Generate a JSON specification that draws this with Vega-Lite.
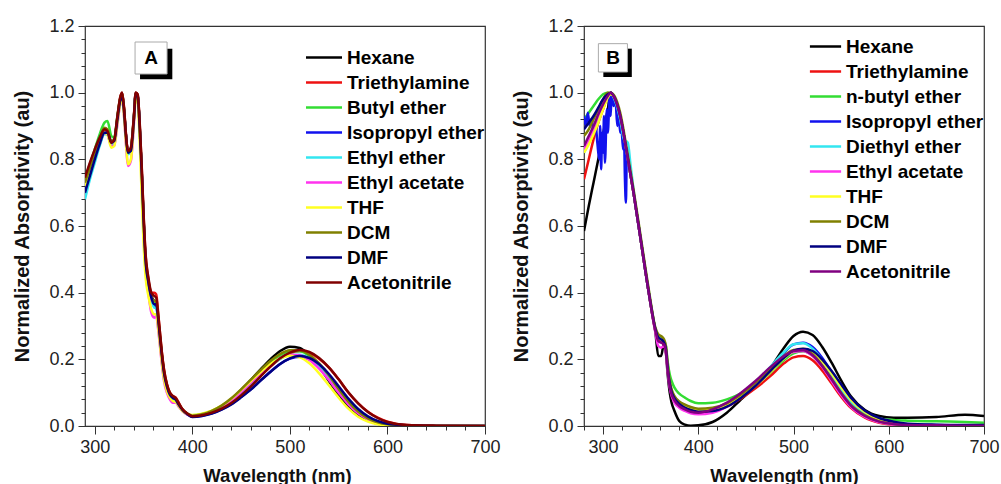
{
"$schema": "https://vega.github.io/schema/vega-lite/v6.json",
"padding": {"left": 12, "top": 16, "right": 0, "bottom": 0},
"spacing": 10,
"config": {
  "view": {"stroke": "#333", "strokeWidth": 1.2},
  "font": "Liberation Sans",
  "axis": {"labelFont": "Liberation Sans", "titleFont": "Liberation Sans", "grid": false, "domain": false, "labelFlush": false, "tickColor": "#333", "labelColor": "#222", "titleColor": "#111", "labelFontSize": 18, "titleFontWeight": "bold"},
  "legend": {"orient": "none", "title": null, "symbolSize": 144, "symbolStrokeWidth": 2.6, "labelFontSize": 19, "labelFontWeight": "bold", "labelFont": "Liberation Sans", "labelColor": "#000", "rowPadding": 5, "padding": 0, "labelLimit": 300}
},
"resolve": {"scale": {"color": "independent"}, "legend": {"color": "independent"}},
"datasets": {
"A": [
{"s":"Hexane","w":290,"a":0.72},{"s":"Hexane","w":295,"a":0.77},{"s":"Hexane","w":300,"a":0.815},{"s":"Hexane","w":305,"a":0.855},{"s":"Hexane","w":310,"a":0.885},{"s":"Hexane","w":313,"a":0.88},{"s":"Hexane","w":317,"a":0.85},{"s":"Hexane","w":320,"a":0.855},{"s":"Hexane","w":323,"a":0.92},{"s":"Hexane","w":326,"a":0.98},{"s":"Hexane","w":328,"a":1.0},{"s":"Hexane","w":330,"a":0.95},{"s":"Hexane","w":332,"a":0.87},{"s":"Hexane","w":334,"a":0.82},{"s":"Hexane","w":337,"a":0.83},{"s":"Hexane","w":340,"a":0.92},{"s":"Hexane","w":342,"a":1.0},{"s":"Hexane","w":344,"a":0.99},{"s":"Hexane","w":346,"a":0.9},{"s":"Hexane","w":348,"a":0.77},{"s":"Hexane","w":350,"a":0.62},{"s":"Hexane","w":352,"a":0.5},{"s":"Hexane","w":355,"a":0.43},{"s":"Hexane","w":358,"a":0.39},{"s":"Hexane","w":361,"a":0.375},{"s":"Hexane","w":363,"a":0.37},{"s":"Hexane","w":365,"a":0.32},{"s":"Hexane","w":367,"a":0.26},{"s":"Hexane","w":369,"a":0.205},{"s":"Hexane","w":371,"a":0.16},{"s":"Hexane","w":374,"a":0.12},{"s":"Hexane","w":377,"a":0.095},{"s":"Hexane","w":380,"a":0.085},{"s":"Hexane","w":383,"a":0.08},{"s":"Hexane","w":386,"a":0.065},{"s":"Hexane","w":390,"a":0.048},{"s":"Hexane","w":395,"a":0.036},
{"s":"Hexane","w":400,"a":0.03},{"s":"Hexane","w":410,"a":0.034},{"s":"Hexane","w":420,"a":0.043},{"s":"Hexane","w":430,"a":0.058},{"s":"Hexane","w":440,"a":0.08},{"s":"Hexane","w":450,"a":0.108},{"s":"Hexane","w":460,"a":0.138},{"s":"Hexane","w":470,"a":0.17},{"s":"Hexane","w":480,"a":0.2},{"s":"Hexane","w":490,"a":0.225},{"s":"Hexane","w":500,"a":0.238},{"s":"Hexane","w":510,"a":0.234},{"s":"Hexane","w":520,"a":0.212},{"s":"Hexane","w":530,"a":0.178},{"s":"Hexane","w":540,"a":0.135},{"s":"Hexane","w":550,"a":0.092},{"s":"Hexane","w":560,"a":0.057},{"s":"Hexane","w":570,"a":0.032},{"s":"Hexane","w":580,"a":0.016},{"s":"Hexane","w":590,"a":0.007},{"s":"Hexane","w":600,"a":0.003},{"s":"Hexane","w":620,"a":0.001},{"s":"Hexane","w":650,"a":0},{"s":"Hexane","w":700,"a":0},

{"s":"Triethylamine","w":290,"a":0.74},{"s":"Triethylamine","w":295,"a":0.785},{"s":"Triethylamine","w":300,"a":0.825},{"s":"Triethylamine","w":305,"a":0.86},{"s":"Triethylamine","w":310,"a":0.885},{"s":"Triethylamine","w":313,"a":0.88},{"s":"Triethylamine","w":317,"a":0.845},{"s":"Triethylamine","w":320,"a":0.855},{"s":"Triethylamine","w":323,"a":0.92},{"s":"Triethylamine","w":326,"a":0.985},{"s":"Triethylamine","w":328,"a":1.0},{"s":"Triethylamine","w":330,"a":0.955},{"s":"Triethylamine","w":332,"a":0.875},{"s":"Triethylamine","w":334,"a":0.825},{"s":"Triethylamine","w":337,"a":0.835},{"s":"Triethylamine","w":340,"a":0.925},{"s":"Triethylamine","w":342,"a":1.0},{"s":"Triethylamine","w":344,"a":0.995},{"s":"Triethylamine","w":346,"a":0.91},{"s":"Triethylamine","w":348,"a":0.785},{"s":"Triethylamine","w":350,"a":0.635},{"s":"Triethylamine","w":352,"a":0.515},{"s":"Triethylamine","w":355,"a":0.44},{"s":"Triethylamine","w":358,"a":0.4},{"s":"Triethylamine","w":361,"a":0.4},{"s":"Triethylamine","w":363,"a":0.395},{"s":"Triethylamine","w":365,"a":0.34},{"s":"Triethylamine","w":367,"a":0.275},{"s":"Triethylamine","w":369,"a":0.215},{"s":"Triethylamine","w":371,"a":0.17},{"s":"Triethylamine","w":374,"a":0.125},{"s":"Triethylamine","w":377,"a":0.1},{"s":"Triethylamine","w":380,"a":0.09},{"s":"Triethylamine","w":383,"a":0.085},{"s":"Triethylamine","w":386,"a":0.07},{"s":"Triethylamine","w":390,"a":0.05},{"s":"Triethylamine","w":395,"a":0.037},
{"s":"Triethylamine","w":400,"a":0.03},{"s":"Triethylamine","w":410,"a":0.033},{"s":"Triethylamine","w":420,"a":0.041},{"s":"Triethylamine","w":430,"a":0.053},{"s":"Triethylamine","w":440,"a":0.07},{"s":"Triethylamine","w":450,"a":0.093},{"s":"Triethylamine","w":460,"a":0.12},{"s":"Triethylamine","w":470,"a":0.15},{"s":"Triethylamine","w":480,"a":0.178},{"s":"Triethylamine","w":490,"a":0.202},{"s":"Triethylamine","w":500,"a":0.218},{"s":"Triethylamine","w":510,"a":0.225},{"s":"Triethylamine","w":520,"a":0.219},{"s":"Triethylamine","w":530,"a":0.202},{"s":"Triethylamine","w":540,"a":0.175},{"s":"Triethylamine","w":550,"a":0.14},{"s":"Triethylamine","w":560,"a":0.1},{"s":"Triethylamine","w":570,"a":0.068},{"s":"Triethylamine","w":580,"a":0.043},{"s":"Triethylamine","w":590,"a":0.025},{"s":"Triethylamine","w":600,"a":0.013},{"s":"Triethylamine","w":620,"a":0.003},{"s":"Triethylamine","w":650,"a":0.001},{"s":"Triethylamine","w":700,"a":0},

{"s":"Butyl ether","w":290,"a":0.74},{"s":"Butyl ether","w":295,"a":0.785},{"s":"Butyl ether","w":300,"a":0.83},{"s":"Butyl ether","w":305,"a":0.875},{"s":"Butyl ether","w":310,"a":0.91},{"s":"Butyl ether","w":313,"a":0.915},{"s":"Butyl ether","w":317,"a":0.87},{"s":"Butyl ether","w":320,"a":0.865},{"s":"Butyl ether","w":323,"a":0.925},{"s":"Butyl ether","w":326,"a":0.98},{"s":"Butyl ether","w":328,"a":0.995},{"s":"Butyl ether","w":330,"a":0.945},{"s":"Butyl ether","w":332,"a":0.865},{"s":"Butyl ether","w":334,"a":0.82},{"s":"Butyl ether","w":337,"a":0.83},{"s":"Butyl ether","w":340,"a":0.92},{"s":"Butyl ether","w":342,"a":0.995},{"s":"Butyl ether","w":344,"a":0.985},{"s":"Butyl ether","w":346,"a":0.895},{"s":"Butyl ether","w":348,"a":0.765},{"s":"Butyl ether","w":350,"a":0.615},{"s":"Butyl ether","w":352,"a":0.495},{"s":"Butyl ether","w":355,"a":0.425},{"s":"Butyl ether","w":358,"a":0.385},{"s":"Butyl ether","w":361,"a":0.37},{"s":"Butyl ether","w":363,"a":0.365},{"s":"Butyl ether","w":365,"a":0.315},{"s":"Butyl ether","w":367,"a":0.255},{"s":"Butyl ether","w":369,"a":0.2},{"s":"Butyl ether","w":371,"a":0.155},{"s":"Butyl ether","w":374,"a":0.115},{"s":"Butyl ether","w":377,"a":0.092},{"s":"Butyl ether","w":380,"a":0.082},{"s":"Butyl ether","w":383,"a":0.077},{"s":"Butyl ether","w":386,"a":0.063},{"s":"Butyl ether","w":390,"a":0.047},{"s":"Butyl ether","w":395,"a":0.036},
{"s":"Butyl ether","w":400,"a":0.032},{"s":"Butyl ether","w":410,"a":0.036},{"s":"Butyl ether","w":420,"a":0.045},{"s":"Butyl ether","w":430,"a":0.06},{"s":"Butyl ether","w":440,"a":0.08},{"s":"Butyl ether","w":450,"a":0.106},{"s":"Butyl ether","w":460,"a":0.134},{"s":"Butyl ether","w":470,"a":0.163},{"s":"Butyl ether","w":480,"a":0.19},{"s":"Butyl ether","w":490,"a":0.212},{"s":"Butyl ether","w":500,"a":0.224},{"s":"Butyl ether","w":510,"a":0.224},{"s":"Butyl ether","w":520,"a":0.21},{"s":"Butyl ether","w":530,"a":0.182},{"s":"Butyl ether","w":540,"a":0.145},{"s":"Butyl ether","w":550,"a":0.105},{"s":"Butyl ether","w":560,"a":0.068},{"s":"Butyl ether","w":570,"a":0.04},{"s":"Butyl ether","w":580,"a":0.021},{"s":"Butyl ether","w":590,"a":0.01},{"s":"Butyl ether","w":600,"a":0.004},{"s":"Butyl ether","w":620,"a":0.001},{"s":"Butyl ether","w":650,"a":0},{"s":"Butyl ether","w":700,"a":0},

{"s":"Isopropyl ether","w":290,"a":0.7},{"s":"Isopropyl ether","w":295,"a":0.75},{"s":"Isopropyl ether","w":300,"a":0.8},{"s":"Isopropyl ether","w":305,"a":0.845},{"s":"Isopropyl ether","w":310,"a":0.88},{"s":"Isopropyl ether","w":313,"a":0.88},{"s":"Isopropyl ether","w":317,"a":0.85},{"s":"Isopropyl ether","w":320,"a":0.855},{"s":"Isopropyl ether","w":323,"a":0.915},{"s":"Isopropyl ether","w":326,"a":0.975},{"s":"Isopropyl ether","w":328,"a":0.99},{"s":"Isopropyl ether","w":330,"a":0.945},{"s":"Isopropyl ether","w":332,"a":0.87},{"s":"Isopropyl ether","w":334,"a":0.82},{"s":"Isopropyl ether","w":337,"a":0.825},{"s":"Isopropyl ether","w":340,"a":0.915},{"s":"Isopropyl ether","w":342,"a":0.995},{"s":"Isopropyl ether","w":344,"a":0.99},{"s":"Isopropyl ether","w":346,"a":0.9},{"s":"Isopropyl ether","w":348,"a":0.77},{"s":"Isopropyl ether","w":350,"a":0.62},{"s":"Isopropyl ether","w":352,"a":0.5},{"s":"Isopropyl ether","w":355,"a":0.43},{"s":"Isopropyl ether","w":358,"a":0.385},{"s":"Isopropyl ether","w":361,"a":0.36},{"s":"Isopropyl ether","w":363,"a":0.36},{"s":"Isopropyl ether","w":365,"a":0.315},{"s":"Isopropyl ether","w":367,"a":0.255},{"s":"Isopropyl ether","w":369,"a":0.2},{"s":"Isopropyl ether","w":371,"a":0.155},{"s":"Isopropyl ether","w":374,"a":0.117},{"s":"Isopropyl ether","w":377,"a":0.093},{"s":"Isopropyl ether","w":380,"a":0.083},{"s":"Isopropyl ether","w":383,"a":0.078},{"s":"Isopropyl ether","w":386,"a":0.063},{"s":"Isopropyl ether","w":390,"a":0.047},{"s":"Isopropyl ether","w":395,"a":0.035},
{"s":"Isopropyl ether","w":400,"a":0.028},{"s":"Isopropyl ether","w":410,"a":0.031},{"s":"Isopropyl ether","w":420,"a":0.038},{"s":"Isopropyl ether","w":430,"a":0.05},{"s":"Isopropyl ether","w":440,"a":0.066},{"s":"Isopropyl ether","w":450,"a":0.087},{"s":"Isopropyl ether","w":460,"a":0.11},{"s":"Isopropyl ether","w":470,"a":0.137},{"s":"Isopropyl ether","w":480,"a":0.163},{"s":"Isopropyl ether","w":490,"a":0.186},{"s":"Isopropyl ether","w":500,"a":0.202},{"s":"Isopropyl ether","w":510,"a":0.208},{"s":"Isopropyl ether","w":520,"a":0.2},{"s":"Isopropyl ether","w":530,"a":0.18},{"s":"Isopropyl ether","w":540,"a":0.15},{"s":"Isopropyl ether","w":550,"a":0.113},{"s":"Isopropyl ether","w":560,"a":0.077},{"s":"Isopropyl ether","w":570,"a":0.047},{"s":"Isopropyl ether","w":580,"a":0.026},{"s":"Isopropyl ether","w":590,"a":0.013},{"s":"Isopropyl ether","w":600,"a":0.006},{"s":"Isopropyl ether","w":620,"a":0.002},{"s":"Isopropyl ether","w":650,"a":0},{"s":"Isopropyl ether","w":700,"a":0},

{"s":"Ethyl ether","w":290,"a":0.68},{"s":"Ethyl ether","w":295,"a":0.74},{"s":"Ethyl ether","w":300,"a":0.79},{"s":"Ethyl ether","w":305,"a":0.84},{"s":"Ethyl ether","w":310,"a":0.875},{"s":"Ethyl ether","w":313,"a":0.875},{"s":"Ethyl ether","w":317,"a":0.845},{"s":"Ethyl ether","w":320,"a":0.85},{"s":"Ethyl ether","w":323,"a":0.915},{"s":"Ethyl ether","w":326,"a":0.975},{"s":"Ethyl ether","w":328,"a":0.99},{"s":"Ethyl ether","w":330,"a":0.94},{"s":"Ethyl ether","w":332,"a":0.865},{"s":"Ethyl ether","w":334,"a":0.815},{"s":"Ethyl ether","w":337,"a":0.825},{"s":"Ethyl ether","w":340,"a":0.915},{"s":"Ethyl ether","w":342,"a":0.995},{"s":"Ethyl ether","w":344,"a":0.985},{"s":"Ethyl ether","w":346,"a":0.895},{"s":"Ethyl ether","w":348,"a":0.765},{"s":"Ethyl ether","w":350,"a":0.615},{"s":"Ethyl ether","w":352,"a":0.495},{"s":"Ethyl ether","w":355,"a":0.425},{"s":"Ethyl ether","w":358,"a":0.38},{"s":"Ethyl ether","w":361,"a":0.355},{"s":"Ethyl ether","w":363,"a":0.355},{"s":"Ethyl ether","w":365,"a":0.31},{"s":"Ethyl ether","w":367,"a":0.25},{"s":"Ethyl ether","w":369,"a":0.195},{"s":"Ethyl ether","w":371,"a":0.15},{"s":"Ethyl ether","w":374,"a":0.113},{"s":"Ethyl ether","w":377,"a":0.09},{"s":"Ethyl ether","w":380,"a":0.08},{"s":"Ethyl ether","w":383,"a":0.075},{"s":"Ethyl ether","w":386,"a":0.061},{"s":"Ethyl ether","w":390,"a":0.046},{"s":"Ethyl ether","w":395,"a":0.035},
{"s":"Ethyl ether","w":400,"a":0.03},{"s":"Ethyl ether","w":410,"a":0.034},{"s":"Ethyl ether","w":420,"a":0.042},{"s":"Ethyl ether","w":430,"a":0.056},{"s":"Ethyl ether","w":440,"a":0.075},{"s":"Ethyl ether","w":450,"a":0.099},{"s":"Ethyl ether","w":460,"a":0.126},{"s":"Ethyl ether","w":470,"a":0.154},{"s":"Ethyl ether","w":480,"a":0.18},{"s":"Ethyl ether","w":490,"a":0.201},{"s":"Ethyl ether","w":500,"a":0.213},{"s":"Ethyl ether","w":510,"a":0.214},{"s":"Ethyl ether","w":520,"a":0.203},{"s":"Ethyl ether","w":530,"a":0.18},{"s":"Ethyl ether","w":540,"a":0.147},{"s":"Ethyl ether","w":550,"a":0.108},{"s":"Ethyl ether","w":560,"a":0.072},{"s":"Ethyl ether","w":570,"a":0.043},{"s":"Ethyl ether","w":580,"a":0.023},{"s":"Ethyl ether","w":590,"a":0.011},{"s":"Ethyl ether","w":600,"a":0.005},{"s":"Ethyl ether","w":620,"a":0.001},{"s":"Ethyl ether","w":650,"a":0},{"s":"Ethyl ether","w":700,"a":0},

{"s":"Ethyl acetate","w":290,"a":0.72},{"s":"Ethyl acetate","w":295,"a":0.765},{"s":"Ethyl acetate","w":300,"a":0.81},{"s":"Ethyl acetate","w":305,"a":0.85},{"s":"Ethyl acetate","w":310,"a":0.88},{"s":"Ethyl acetate","w":313,"a":0.875},{"s":"Ethyl acetate","w":317,"a":0.84},{"s":"Ethyl acetate","w":320,"a":0.84},{"s":"Ethyl acetate","w":323,"a":0.9},{"s":"Ethyl acetate","w":326,"a":0.965},{"s":"Ethyl acetate","w":328,"a":0.985},{"s":"Ethyl acetate","w":330,"a":0.93},{"s":"Ethyl acetate","w":332,"a":0.845},{"s":"Ethyl acetate","w":334,"a":0.78},{"s":"Ethyl acetate","w":337,"a":0.795},{"s":"Ethyl acetate","w":340,"a":0.9},{"s":"Ethyl acetate","w":342,"a":0.99},{"s":"Ethyl acetate","w":344,"a":0.98},{"s":"Ethyl acetate","w":346,"a":0.89},{"s":"Ethyl acetate","w":348,"a":0.755},{"s":"Ethyl acetate","w":350,"a":0.6},{"s":"Ethyl acetate","w":352,"a":0.48},{"s":"Ethyl acetate","w":355,"a":0.4},{"s":"Ethyl acetate","w":358,"a":0.34},{"s":"Ethyl acetate","w":361,"a":0.325},{"s":"Ethyl acetate","w":363,"a":0.33},{"s":"Ethyl acetate","w":365,"a":0.29},{"s":"Ethyl acetate","w":367,"a":0.235},{"s":"Ethyl acetate","w":369,"a":0.18},{"s":"Ethyl acetate","w":371,"a":0.135},{"s":"Ethyl acetate","w":374,"a":0.1},{"s":"Ethyl acetate","w":377,"a":0.08},{"s":"Ethyl acetate","w":380,"a":0.07},{"s":"Ethyl acetate","w":383,"a":0.07},{"s":"Ethyl acetate","w":386,"a":0.058},{"s":"Ethyl acetate","w":390,"a":0.044},{"s":"Ethyl acetate","w":395,"a":0.034},
{"s":"Ethyl acetate","w":400,"a":0.029},{"s":"Ethyl acetate","w":410,"a":0.033},{"s":"Ethyl acetate","w":420,"a":0.042},{"s":"Ethyl acetate","w":430,"a":0.057},{"s":"Ethyl acetate","w":440,"a":0.077},{"s":"Ethyl acetate","w":450,"a":0.102},{"s":"Ethyl acetate","w":460,"a":0.13},{"s":"Ethyl acetate","w":470,"a":0.158},{"s":"Ethyl acetate","w":480,"a":0.184},{"s":"Ethyl acetate","w":490,"a":0.204},{"s":"Ethyl acetate","w":500,"a":0.214},{"s":"Ethyl acetate","w":510,"a":0.212},{"s":"Ethyl acetate","w":520,"a":0.198},{"s":"Ethyl acetate","w":530,"a":0.172},{"s":"Ethyl acetate","w":540,"a":0.138},{"s":"Ethyl acetate","w":550,"a":0.1},{"s":"Ethyl acetate","w":560,"a":0.065},{"s":"Ethyl acetate","w":570,"a":0.038},{"s":"Ethyl acetate","w":580,"a":0.02},{"s":"Ethyl acetate","w":590,"a":0.009},{"s":"Ethyl acetate","w":600,"a":0.004},{"s":"Ethyl acetate","w":620,"a":0.001},{"s":"Ethyl acetate","w":650,"a":0},{"s":"Ethyl acetate","w":700,"a":0},

{"s":"THF","w":290,"a":0.72},{"s":"THF","w":295,"a":0.765},{"s":"THF","w":300,"a":0.81},{"s":"THF","w":305,"a":0.85},{"s":"THF","w":310,"a":0.88},{"s":"THF","w":313,"a":0.875},{"s":"THF","w":317,"a":0.835},{"s":"THF","w":320,"a":0.84},{"s":"THF","w":323,"a":0.905},{"s":"THF","w":326,"a":0.965},{"s":"THF","w":328,"a":0.985},{"s":"THF","w":330,"a":0.93},{"s":"THF","w":332,"a":0.85},{"s":"THF","w":334,"a":0.785},{"s":"THF","w":337,"a":0.8},{"s":"THF","w":340,"a":0.905},{"s":"THF","w":342,"a":0.99},{"s":"THF","w":344,"a":0.97},{"s":"THF","w":346,"a":0.86},{"s":"THF","w":348,"a":0.7},{"s":"THF","w":350,"a":0.55},{"s":"THF","w":352,"a":0.45},{"s":"THF","w":355,"a":0.39},{"s":"THF","w":358,"a":0.35},{"s":"THF","w":361,"a":0.335},{"s":"THF","w":363,"a":0.335},{"s":"THF","w":365,"a":0.295},{"s":"THF","w":367,"a":0.24},{"s":"THF","w":369,"a":0.185},{"s":"THF","w":371,"a":0.14},{"s":"THF","w":374,"a":0.105},{"s":"THF","w":377,"a":0.085},{"s":"THF","w":380,"a":0.075},{"s":"THF","w":383,"a":0.072},{"s":"THF","w":386,"a":0.06},{"s":"THF","w":390,"a":0.045},{"s":"THF","w":395,"a":0.036},
{"s":"THF","w":400,"a":0.033},{"s":"THF","w":410,"a":0.037},{"s":"THF","w":420,"a":0.046},{"s":"THF","w":430,"a":0.061},{"s":"THF","w":440,"a":0.082},{"s":"THF","w":450,"a":0.108},{"s":"THF","w":460,"a":0.135},{"s":"THF","w":470,"a":0.162},{"s":"THF","w":480,"a":0.186},{"s":"THF","w":490,"a":0.203},{"s":"THF","w":500,"a":0.211},{"s":"THF","w":510,"a":0.206},{"s":"THF","w":520,"a":0.188},{"s":"THF","w":530,"a":0.158},{"s":"THF","w":540,"a":0.122},{"s":"THF","w":550,"a":0.085},{"s":"THF","w":560,"a":0.052},{"s":"THF","w":570,"a":0.028},{"s":"THF","w":580,"a":0.013},{"s":"THF","w":590,"a":0.005},{"s":"THF","w":600,"a":0.002},{"s":"THF","w":620,"a":0},{"s":"THF","w":650,"a":0},{"s":"THF","w":700,"a":0},

{"s":"DCM","w":290,"a":0.73},{"s":"DCM","w":295,"a":0.775},{"s":"DCM","w":300,"a":0.82},{"s":"DCM","w":305,"a":0.86},{"s":"DCM","w":310,"a":0.895},{"s":"DCM","w":313,"a":0.89},{"s":"DCM","w":317,"a":0.855},{"s":"DCM","w":320,"a":0.86},{"s":"DCM","w":323,"a":0.92},{"s":"DCM","w":326,"a":0.98},{"s":"DCM","w":328,"a":0.995},{"s":"DCM","w":330,"a":0.95},{"s":"DCM","w":332,"a":0.87},{"s":"DCM","w":334,"a":0.82},{"s":"DCM","w":337,"a":0.83},{"s":"DCM","w":340,"a":0.92},{"s":"DCM","w":342,"a":0.995},{"s":"DCM","w":344,"a":0.99},{"s":"DCM","w":346,"a":0.905},{"s":"DCM","w":348,"a":0.775},{"s":"DCM","w":350,"a":0.625},{"s":"DCM","w":352,"a":0.505},{"s":"DCM","w":355,"a":0.435},{"s":"DCM","w":358,"a":0.39},{"s":"DCM","w":361,"a":0.375},{"s":"DCM","w":363,"a":0.375},{"s":"DCM","w":365,"a":0.325},{"s":"DCM","w":367,"a":0.265},{"s":"DCM","w":369,"a":0.21},{"s":"DCM","w":371,"a":0.163},{"s":"DCM","w":374,"a":0.122},{"s":"DCM","w":377,"a":0.097},{"s":"DCM","w":380,"a":0.086},{"s":"DCM","w":383,"a":0.081},{"s":"DCM","w":386,"a":0.066},{"s":"DCM","w":390,"a":0.049},{"s":"DCM","w":395,"a":0.037},
{"s":"DCM","w":400,"a":0.031},{"s":"DCM","w":410,"a":0.035},{"s":"DCM","w":420,"a":0.045},{"s":"DCM","w":430,"a":0.061},{"s":"DCM","w":440,"a":0.083},{"s":"DCM","w":450,"a":0.11},{"s":"DCM","w":460,"a":0.139},{"s":"DCM","w":470,"a":0.168},{"s":"DCM","w":480,"a":0.195},{"s":"DCM","w":490,"a":0.216},{"s":"DCM","w":500,"a":0.227},{"s":"DCM","w":510,"a":0.227},{"s":"DCM","w":520,"a":0.214},{"s":"DCM","w":530,"a":0.188},{"s":"DCM","w":540,"a":0.152},{"s":"DCM","w":550,"a":0.111},{"s":"DCM","w":560,"a":0.073},{"s":"DCM","w":570,"a":0.043},{"s":"DCM","w":580,"a":0.023},{"s":"DCM","w":590,"a":0.011},{"s":"DCM","w":600,"a":0.005},{"s":"DCM","w":620,"a":0.001},{"s":"DCM","w":650,"a":0},{"s":"DCM","w":700,"a":0},

{"s":"DMF","w":290,"a":0.7},{"s":"DMF","w":295,"a":0.75},{"s":"DMF","w":300,"a":0.8},{"s":"DMF","w":305,"a":0.845},{"s":"DMF","w":310,"a":0.88},{"s":"DMF","w":313,"a":0.88},{"s":"DMF","w":317,"a":0.85},{"s":"DMF","w":320,"a":0.855},{"s":"DMF","w":323,"a":0.915},{"s":"DMF","w":326,"a":0.975},{"s":"DMF","w":328,"a":0.99},{"s":"DMF","w":330,"a":0.945},{"s":"DMF","w":332,"a":0.87},{"s":"DMF","w":334,"a":0.82},{"s":"DMF","w":337,"a":0.825},{"s":"DMF","w":340,"a":0.915},{"s":"DMF","w":342,"a":0.995},{"s":"DMF","w":344,"a":0.99},{"s":"DMF","w":346,"a":0.9},{"s":"DMF","w":348,"a":0.77},{"s":"DMF","w":350,"a":0.62},{"s":"DMF","w":352,"a":0.5},{"s":"DMF","w":355,"a":0.43},{"s":"DMF","w":358,"a":0.385},{"s":"DMF","w":361,"a":0.365},{"s":"DMF","w":363,"a":0.365},{"s":"DMF","w":365,"a":0.32},{"s":"DMF","w":367,"a":0.26},{"s":"DMF","w":369,"a":0.205},{"s":"DMF","w":371,"a":0.158},{"s":"DMF","w":374,"a":0.118},{"s":"DMF","w":377,"a":0.094},{"s":"DMF","w":380,"a":0.084},{"s":"DMF","w":383,"a":0.079},{"s":"DMF","w":386,"a":0.064},{"s":"DMF","w":390,"a":0.048},{"s":"DMF","w":395,"a":0.035},
{"s":"DMF","w":400,"a":0.027},{"s":"DMF","w":410,"a":0.03},{"s":"DMF","w":420,"a":0.037},{"s":"DMF","w":430,"a":0.049},{"s":"DMF","w":440,"a":0.065},{"s":"DMF","w":450,"a":0.086},{"s":"DMF","w":460,"a":0.109},{"s":"DMF","w":470,"a":0.136},{"s":"DMF","w":480,"a":0.162},{"s":"DMF","w":490,"a":0.186},{"s":"DMF","w":500,"a":0.203},{"s":"DMF","w":510,"a":0.21},{"s":"DMF","w":520,"a":0.204},{"s":"DMF","w":530,"a":0.185},{"s":"DMF","w":540,"a":0.156},{"s":"DMF","w":550,"a":0.119},{"s":"DMF","w":560,"a":0.082},{"s":"DMF","w":570,"a":0.051},{"s":"DMF","w":580,"a":0.029},{"s":"DMF","w":590,"a":0.015},{"s":"DMF","w":600,"a":0.007},{"s":"DMF","w":620,"a":0.002},{"s":"DMF","w":650,"a":0},{"s":"DMF","w":700,"a":0},

{"s":"Acetonitrile","w":290,"a":0.745},{"s":"Acetonitrile","w":295,"a":0.79},{"s":"Acetonitrile","w":300,"a":0.83},{"s":"Acetonitrile","w":305,"a":0.865},{"s":"Acetonitrile","w":310,"a":0.89},{"s":"Acetonitrile","w":313,"a":0.885},{"s":"Acetonitrile","w":317,"a":0.85},{"s":"Acetonitrile","w":320,"a":0.86},{"s":"Acetonitrile","w":323,"a":0.925},{"s":"Acetonitrile","w":326,"a":0.985},{"s":"Acetonitrile","w":328,"a":1.0},{"s":"Acetonitrile","w":330,"a":0.955},{"s":"Acetonitrile","w":332,"a":0.875},{"s":"Acetonitrile","w":334,"a":0.825},{"s":"Acetonitrile","w":337,"a":0.835},{"s":"Acetonitrile","w":340,"a":0.925},{"s":"Acetonitrile","w":342,"a":1.0},{"s":"Acetonitrile","w":344,"a":0.995},{"s":"Acetonitrile","w":346,"a":0.915},{"s":"Acetonitrile","w":348,"a":0.79},{"s":"Acetonitrile","w":350,"a":0.64},{"s":"Acetonitrile","w":352,"a":0.52},{"s":"Acetonitrile","w":355,"a":0.445},{"s":"Acetonitrile","w":358,"a":0.4},{"s":"Acetonitrile","w":361,"a":0.39},{"s":"Acetonitrile","w":363,"a":0.385},{"s":"Acetonitrile","w":365,"a":0.335},{"s":"Acetonitrile","w":367,"a":0.275},{"s":"Acetonitrile","w":369,"a":0.215},{"s":"Acetonitrile","w":371,"a":0.168},{"s":"Acetonitrile","w":374,"a":0.125},{"s":"Acetonitrile","w":377,"a":0.1},{"s":"Acetonitrile","w":380,"a":0.09},{"s":"Acetonitrile","w":383,"a":0.084},{"s":"Acetonitrile","w":386,"a":0.069},{"s":"Acetonitrile","w":390,"a":0.05},{"s":"Acetonitrile","w":395,"a":0.037},
{"s":"Acetonitrile","w":400,"a":0.029},{"s":"Acetonitrile","w":410,"a":0.032},{"s":"Acetonitrile","w":420,"a":0.04},{"s":"Acetonitrile","w":430,"a":0.052},{"s":"Acetonitrile","w":440,"a":0.069},{"s":"Acetonitrile","w":450,"a":0.092},{"s":"Acetonitrile","w":460,"a":0.119},{"s":"Acetonitrile","w":470,"a":0.149},{"s":"Acetonitrile","w":480,"a":0.178},{"s":"Acetonitrile","w":490,"a":0.203},{"s":"Acetonitrile","w":500,"a":0.22},{"s":"Acetonitrile","w":510,"a":0.228},{"s":"Acetonitrile","w":520,"a":0.222},{"s":"Acetonitrile","w":530,"a":0.204},{"s":"Acetonitrile","w":540,"a":0.176},{"s":"Acetonitrile","w":550,"a":0.14},{"s":"Acetonitrile","w":560,"a":0.101},{"s":"Acetonitrile","w":570,"a":0.068},{"s":"Acetonitrile","w":580,"a":0.042},{"s":"Acetonitrile","w":590,"a":0.024},{"s":"Acetonitrile","w":600,"a":0.012},{"s":"Acetonitrile","w":620,"a":0.003},{"s":"Acetonitrile","w":650,"a":0.001},{"s":"Acetonitrile","w":700,"a":0}
],
"B": [
{"s":"Hexane","w":280,"a":0.585},{"s":"Hexane","w":285,"a":0.66},{"s":"Hexane","w":290,"a":0.73},{"s":"Hexane","w":295,"a":0.8},{"s":"Hexane","w":300,"a":0.875},{"s":"Hexane","w":305,"a":0.95},{"s":"Hexane","w":308,"a":1.0},{"s":"Hexane","w":312,"a":0.985},{"s":"Hexane","w":318,"a":0.93},{"s":"Hexane","w":325,"a":0.82},{"s":"Hexane","w":332,"a":0.7},{"s":"Hexane","w":340,"a":0.55},{"s":"Hexane","w":348,"a":0.4},{"s":"Hexane","w":355,"a":0.28},{"s":"Hexane","w":358,"a":0.21},{"s":"Hexane","w":361,"a":0.21},{"s":"Hexane","w":364,"a":0.25},{"s":"Hexane","w":366,"a":0.22},{"s":"Hexane","w":368,"a":0.15},{"s":"Hexane","w":370,"a":0.1},{"s":"Hexane","w":372,"a":0.07},{"s":"Hexane","w":375,"a":0.045},{"s":"Hexane","w":380,"a":0.015},{"s":"Hexane","w":386,"a":0.004},{"s":"Hexane","w":392,"a":0.001},{"s":"Hexane","w":400,"a":0.002},{"s":"Hexane","w":415,"a":0.012},{"s":"Hexane","w":430,"a":0.04},{"s":"Hexane","w":445,"a":0.08},{"s":"Hexane","w":460,"a":0.12},{"s":"Hexane","w":475,"a":0.17},{"s":"Hexane","w":490,"a":0.235},{"s":"Hexane","w":500,"a":0.27},{"s":"Hexane","w":510,"a":0.283},{"s":"Hexane","w":520,"a":0.273},{"s":"Hexane","w":530,"a":0.238},{"s":"Hexane","w":540,"a":0.19},{"s":"Hexane","w":550,"a":0.137},{"s":"Hexane","w":560,"a":0.09},{"s":"Hexane","w":575,"a":0.048},{"s":"Hexane","w":590,"a":0.03},{"s":"Hexane","w":605,"a":0.025},{"s":"Hexane","w":620,"a":0.025},{"s":"Hexane","w":650,"a":0.027},{"s":"Hexane","w":680,"a":0.034},{"s":"Hexane","w":700,"a":0.03},

{"s":"Triethylamine","w":280,"a":0.74},{"s":"Triethylamine","w":285,"a":0.8},{"s":"Triethylamine","w":290,"a":0.86},{"s":"Triethylamine","w":295,"a":0.91},{"s":"Triethylamine","w":300,"a":0.95},{"s":"Triethylamine","w":305,"a":0.99},{"s":"Triethylamine","w":308,"a":1.0},{"s":"Triethylamine","w":312,"a":0.985},{"s":"Triethylamine","w":318,"a":0.93},{"s":"Triethylamine","w":325,"a":0.82},{"s":"Triethylamine","w":332,"a":0.7},{"s":"Triethylamine","w":340,"a":0.55},{"s":"Triethylamine","w":348,"a":0.4},{"s":"Triethylamine","w":355,"a":0.285},{"s":"Triethylamine","w":358,"a":0.26},{"s":"Triethylamine","w":361,"a":0.255},{"s":"Triethylamine","w":364,"a":0.245},{"s":"Triethylamine","w":366,"a":0.225},{"s":"Triethylamine","w":368,"a":0.165},{"s":"Triethylamine","w":370,"a":0.125},{"s":"Triethylamine","w":372,"a":0.1},{"s":"Triethylamine","w":375,"a":0.08},{"s":"Triethylamine","w":380,"a":0.062},{"s":"Triethylamine","w":386,"a":0.052},{"s":"Triethylamine","w":392,"a":0.045},{"s":"Triethylamine","w":400,"a":0.042},{"s":"Triethylamine","w":415,"a":0.045},{"s":"Triethylamine","w":430,"a":0.058},{"s":"Triethylamine","w":445,"a":0.083},{"s":"Triethylamine","w":460,"a":0.113},{"s":"Triethylamine","w":475,"a":0.148},{"s":"Triethylamine","w":490,"a":0.188},{"s":"Triethylamine","w":500,"a":0.206},{"s":"Triethylamine","w":510,"a":0.21},{"s":"Triethylamine","w":520,"a":0.197},{"s":"Triethylamine","w":530,"a":0.167},{"s":"Triethylamine","w":540,"a":0.128},{"s":"Triethylamine","w":550,"a":0.088},{"s":"Triethylamine","w":560,"a":0.055},{"s":"Triethylamine","w":575,"a":0.025},{"s":"Triethylamine","w":590,"a":0.01},{"s":"Triethylamine","w":605,"a":0.004},{"s":"Triethylamine","w":620,"a":0.002},{"s":"Triethylamine","w":650,"a":0.001},{"s":"Triethylamine","w":680,"a":0},{"s":"Triethylamine","w":700,"a":0},

{"s":"n-butyl ether","w":280,"a":0.92},{"s":"n-butyl ether","w":285,"a":0.94},{"s":"n-butyl ether","w":290,"a":0.96},{"s":"n-butyl ether","w":295,"a":0.98},{"s":"n-butyl ether","w":300,"a":0.995},{"s":"n-butyl ether","w":305,"a":1.0},{"s":"n-butyl ether","w":308,"a":0.995},{"s":"n-butyl ether","w":312,"a":0.98},{"s":"n-butyl ether","w":318,"a":0.93},{"s":"n-butyl ether","w":325,"a":0.82},{"s":"n-butyl ether","w":332,"a":0.7},{"s":"n-butyl ether","w":340,"a":0.55},{"s":"n-butyl ether","w":348,"a":0.4},{"s":"n-butyl ether","w":355,"a":0.29},{"s":"n-butyl ether","w":358,"a":0.27},{"s":"n-butyl ether","w":361,"a":0.265},{"s":"n-butyl ether","w":364,"a":0.255},{"s":"n-butyl ether","w":366,"a":0.24},{"s":"n-butyl ether","w":368,"a":0.19},{"s":"n-butyl ether","w":370,"a":0.155},{"s":"n-butyl ether","w":372,"a":0.135},{"s":"n-butyl ether","w":375,"a":0.115},{"s":"n-butyl ether","w":380,"a":0.097},{"s":"n-butyl ether","w":386,"a":0.085},{"s":"n-butyl ether","w":392,"a":0.075},{"s":"n-butyl ether","w":400,"a":0.068},{"s":"n-butyl ether","w":415,"a":0.07},{"s":"n-butyl ether","w":430,"a":0.08},{"s":"n-butyl ether","w":445,"a":0.098},{"s":"n-butyl ether","w":460,"a":0.123},{"s":"n-butyl ether","w":475,"a":0.158},{"s":"n-butyl ether","w":490,"a":0.198},{"s":"n-butyl ether","w":500,"a":0.218},{"s":"n-butyl ether","w":510,"a":0.224},{"s":"n-butyl ether","w":520,"a":0.211},{"s":"n-butyl ether","w":530,"a":0.181},{"s":"n-butyl ether","w":540,"a":0.141},{"s":"n-butyl ether","w":550,"a":0.1},{"s":"n-butyl ether","w":560,"a":0.065},{"s":"n-butyl ether","w":575,"a":0.035},{"s":"n-butyl ether","w":590,"a":0.022},{"s":"n-butyl ether","w":605,"a":0.018},{"s":"n-butyl ether","w":620,"a":0.016},{"s":"n-butyl ether","w":650,"a":0.014},{"s":"n-butyl ether","w":680,"a":0.012},{"s":"n-butyl ether","w":700,"a":0.01},

{"s":"Isopropyl ether","w":280,"a":0.93},{"s":"Isopropyl ether","w":282,"a":0.9},{"s":"Isopropyl ether","w":284,"a":0.94},{"s":"Isopropyl ether","w":286,"a":0.9},{"s":"Isopropyl ether","w":288,"a":0.92},{"s":"Isopropyl ether","w":290,"a":0.88},{"s":"Isopropyl ether","w":292,"a":0.91},{"s":"Isopropyl ether","w":294,"a":0.85},{"s":"Isopropyl ether","w":296,"a":0.8},{"s":"Isopropyl ether","w":297,"a":0.9},{"s":"Isopropyl ether","w":298,"a":0.77},{"s":"Isopropyl ether","w":299,"a":0.88},{"s":"Isopropyl ether","w":300,"a":0.82},{"s":"Isopropyl ether","w":301,"a":0.93},{"s":"Isopropyl ether","w":302,"a":0.79},{"s":"Isopropyl ether","w":304,"a":0.95},{"s":"Isopropyl ether","w":305,"a":0.88},{"s":"Isopropyl ether","w":307,"a":0.99},{"s":"Isopropyl ether","w":308,"a":0.93},{"s":"Isopropyl ether","w":309,"a":1.0},{"s":"Isopropyl ether","w":311,"a":0.96},{"s":"Isopropyl ether","w":313,"a":0.98},{"s":"Isopropyl ether","w":315,"a":0.9},{"s":"Isopropyl ether","w":316,"a":0.95},{"s":"Isopropyl ether","w":318,"a":0.88},{"s":"Isopropyl ether","w":319,"a":0.91},{"s":"Isopropyl ether","w":321,"a":0.83},{"s":"Isopropyl ether","w":322,"a":0.87},{"s":"Isopropyl ether","w":323,"a":0.74},{"s":"Isopropyl ether","w":324,"a":0.67},{"s":"Isopropyl ether","w":325,"a":0.82},{"s":"Isopropyl ether","w":327,"a":0.79},{"s":"Isopropyl ether","w":330,"a":0.74},{"s":"Isopropyl ether","w":332,"a":0.7},{"s":"Isopropyl ether","w":340,"a":0.55},{"s":"Isopropyl ether","w":348,"a":0.4},{"s":"Isopropyl ether","w":355,"a":0.29},{"s":"Isopropyl ether","w":358,"a":0.265},{"s":"Isopropyl ether","w":361,"a":0.26},{"s":"Isopropyl ether","w":364,"a":0.25},{"s":"Isopropyl ether","w":366,"a":0.23},{"s":"Isopropyl ether","w":368,"a":0.17},{"s":"Isopropyl ether","w":370,"a":0.13},{"s":"Isopropyl ether","w":372,"a":0.105},{"s":"Isopropyl ether","w":375,"a":0.085},{"s":"Isopropyl ether","w":380,"a":0.068},{"s":"Isopropyl ether","w":386,"a":0.057},{"s":"Isopropyl ether","w":392,"a":0.05},{"s":"Isopropyl ether","w":400,"a":0.045},{"s":"Isopropyl ether","w":415,"a":0.047},{"s":"Isopropyl ether","w":430,"a":0.06},{"s":"Isopropyl ether","w":445,"a":0.088},{"s":"Isopropyl ether","w":460,"a":0.125},{"s":"Isopropyl ether","w":475,"a":0.17},{"s":"Isopropyl ether","w":490,"a":0.22},{"s":"Isopropyl ether","w":500,"a":0.245},{"s":"Isopropyl ether","w":510,"a":0.25},{"s":"Isopropyl ether","w":520,"a":0.237},{"s":"Isopropyl ether","w":530,"a":0.205},{"s":"Isopropyl ether","w":540,"a":0.162},{"s":"Isopropyl ether","w":550,"a":0.118},{"s":"Isopropyl ether","w":560,"a":0.078},{"s":"Isopropyl ether","w":575,"a":0.04},{"s":"Isopropyl ether","w":590,"a":0.02},{"s":"Isopropyl ether","w":605,"a":0.01},{"s":"Isopropyl ether","w":620,"a":0.005},{"s":"Isopropyl ether","w":650,"a":0.003},{"s":"Isopropyl ether","w":680,"a":0.002},{"s":"Isopropyl ether","w":700,"a":0.002},

{"s":"Diethyl ether","w":280,"a":0.82},{"s":"Diethyl ether","w":285,"a":0.85},{"s":"Diethyl ether","w":290,"a":0.88},{"s":"Diethyl ether","w":295,"a":0.92},{"s":"Diethyl ether","w":300,"a":0.96},{"s":"Diethyl ether","w":305,"a":0.99},{"s":"Diethyl ether","w":308,"a":1.0},{"s":"Diethyl ether","w":312,"a":0.98},{"s":"Diethyl ether","w":318,"a":0.92},{"s":"Diethyl ether","w":322,"a":0.86},{"s":"Diethyl ether","w":326,"a":0.85},{"s":"Diethyl ether","w":329,"a":0.78},{"s":"Diethyl ether","w":332,"a":0.71},{"s":"Diethyl ether","w":340,"a":0.555},{"s":"Diethyl ether","w":348,"a":0.405},{"s":"Diethyl ether","w":355,"a":0.29},{"s":"Diethyl ether","w":358,"a":0.265},{"s":"Diethyl ether","w":361,"a":0.26},{"s":"Diethyl ether","w":364,"a":0.25},{"s":"Diethyl ether","w":366,"a":0.23},{"s":"Diethyl ether","w":368,"a":0.17},{"s":"Diethyl ether","w":370,"a":0.13},{"s":"Diethyl ether","w":372,"a":0.105},{"s":"Diethyl ether","w":375,"a":0.088},{"s":"Diethyl ether","w":380,"a":0.072},{"s":"Diethyl ether","w":386,"a":0.062},{"s":"Diethyl ether","w":392,"a":0.055},{"s":"Diethyl ether","w":400,"a":0.05},{"s":"Diethyl ether","w":415,"a":0.052},{"s":"Diethyl ether","w":430,"a":0.066},{"s":"Diethyl ether","w":445,"a":0.093},{"s":"Diethyl ether","w":460,"a":0.13},{"s":"Diethyl ether","w":475,"a":0.175},{"s":"Diethyl ether","w":490,"a":0.222},{"s":"Diethyl ether","w":500,"a":0.245},{"s":"Diethyl ether","w":510,"a":0.248},{"s":"Diethyl ether","w":520,"a":0.232},{"s":"Diethyl ether","w":530,"a":0.198},{"s":"Diethyl ether","w":540,"a":0.155},{"s":"Diethyl ether","w":550,"a":0.11},{"s":"Diethyl ether","w":560,"a":0.072},{"s":"Diethyl ether","w":575,"a":0.037},{"s":"Diethyl ether","w":590,"a":0.018},{"s":"Diethyl ether","w":605,"a":0.008},{"s":"Diethyl ether","w":620,"a":0.004},{"s":"Diethyl ether","w":650,"a":0.002},{"s":"Diethyl ether","w":680,"a":0.001},{"s":"Diethyl ether","w":700,"a":0.001},

{"s":"Ethyl acetate","w":280,"a":0.83},{"s":"Ethyl acetate","w":285,"a":0.86},{"s":"Ethyl acetate","w":290,"a":0.89},{"s":"Ethyl acetate","w":295,"a":0.93},{"s":"Ethyl acetate","w":300,"a":0.96},{"s":"Ethyl acetate","w":305,"a":0.99},{"s":"Ethyl acetate","w":308,"a":1.0},{"s":"Ethyl acetate","w":312,"a":0.985},{"s":"Ethyl acetate","w":318,"a":0.93},{"s":"Ethyl acetate","w":325,"a":0.82},{"s":"Ethyl acetate","w":332,"a":0.7},{"s":"Ethyl acetate","w":340,"a":0.55},{"s":"Ethyl acetate","w":348,"a":0.4},{"s":"Ethyl acetate","w":355,"a":0.28},{"s":"Ethyl acetate","w":358,"a":0.24},{"s":"Ethyl acetate","w":361,"a":0.235},{"s":"Ethyl acetate","w":364,"a":0.24},{"s":"Ethyl acetate","w":366,"a":0.22},{"s":"Ethyl acetate","w":368,"a":0.16},{"s":"Ethyl acetate","w":370,"a":0.115},{"s":"Ethyl acetate","w":372,"a":0.09},{"s":"Ethyl acetate","w":375,"a":0.07},{"s":"Ethyl acetate","w":380,"a":0.055},{"s":"Ethyl acetate","w":386,"a":0.045},{"s":"Ethyl acetate","w":392,"a":0.038},{"s":"Ethyl acetate","w":400,"a":0.035},{"s":"Ethyl acetate","w":415,"a":0.04},{"s":"Ethyl acetate","w":430,"a":0.058},{"s":"Ethyl acetate","w":445,"a":0.09},{"s":"Ethyl acetate","w":460,"a":0.125},{"s":"Ethyl acetate","w":475,"a":0.165},{"s":"Ethyl acetate","w":490,"a":0.205},{"s":"Ethyl acetate","w":500,"a":0.222},{"s":"Ethyl acetate","w":510,"a":0.225},{"s":"Ethyl acetate","w":520,"a":0.21},{"s":"Ethyl acetate","w":530,"a":0.178},{"s":"Ethyl acetate","w":540,"a":0.135},{"s":"Ethyl acetate","w":550,"a":0.093},{"s":"Ethyl acetate","w":560,"a":0.058},{"s":"Ethyl acetate","w":575,"a":0.027},{"s":"Ethyl acetate","w":590,"a":0.011},{"s":"Ethyl acetate","w":605,"a":0.004},{"s":"Ethyl acetate","w":620,"a":0.002},{"s":"Ethyl acetate","w":650,"a":0.001},{"s":"Ethyl acetate","w":680,"a":0},{"s":"Ethyl acetate","w":700,"a":0},

{"s":"THF","w":280,"a":0.82},{"s":"THF","w":285,"a":0.845},{"s":"THF","w":290,"a":0.875},{"s":"THF","w":295,"a":0.91},{"s":"THF","w":300,"a":0.95},{"s":"THF","w":305,"a":0.985},{"s":"THF","w":308,"a":0.995},{"s":"THF","w":312,"a":0.985},{"s":"THF","w":318,"a":0.93},{"s":"THF","w":325,"a":0.82},{"s":"THF","w":332,"a":0.7},{"s":"THF","w":340,"a":0.55},{"s":"THF","w":348,"a":0.4},{"s":"THF","w":355,"a":0.29},{"s":"THF","w":358,"a":0.265},{"s":"THF","w":361,"a":0.26},{"s":"THF","w":364,"a":0.25},{"s":"THF","w":366,"a":0.23},{"s":"THF","w":368,"a":0.17},{"s":"THF","w":370,"a":0.13},{"s":"THF","w":372,"a":0.105},{"s":"THF","w":375,"a":0.087},{"s":"THF","w":380,"a":0.07},{"s":"THF","w":386,"a":0.06},{"s":"THF","w":392,"a":0.052},{"s":"THF","w":400,"a":0.047},{"s":"THF","w":415,"a":0.05},{"s":"THF","w":430,"a":0.064},{"s":"THF","w":445,"a":0.09},{"s":"THF","w":460,"a":0.12},{"s":"THF","w":475,"a":0.16},{"s":"THF","w":490,"a":0.203},{"s":"THF","w":500,"a":0.225},{"s":"THF","w":510,"a":0.232},{"s":"THF","w":520,"a":0.222},{"s":"THF","w":530,"a":0.195},{"s":"THF","w":540,"a":0.158},{"s":"THF","w":550,"a":0.117},{"s":"THF","w":560,"a":0.08},{"s":"THF","w":575,"a":0.042},{"s":"THF","w":590,"a":0.02},{"s":"THF","w":605,"a":0.009},{"s":"THF","w":620,"a":0.004},{"s":"THF","w":650,"a":0.002},{"s":"THF","w":680,"a":0.001},{"s":"THF","w":700,"a":0.001},

{"s":"DCM","w":280,"a":0.87},{"s":"DCM","w":285,"a":0.89},{"s":"DCM","w":290,"a":0.92},{"s":"DCM","w":295,"a":0.95},{"s":"DCM","w":300,"a":0.98},{"s":"DCM","w":305,"a":1.0},{"s":"DCM","w":308,"a":1.0},{"s":"DCM","w":312,"a":0.99},{"s":"DCM","w":318,"a":0.94},{"s":"DCM","w":325,"a":0.83},{"s":"DCM","w":332,"a":0.71},{"s":"DCM","w":340,"a":0.56},{"s":"DCM","w":348,"a":0.41},{"s":"DCM","w":355,"a":0.295},{"s":"DCM","w":358,"a":0.275},{"s":"DCM","w":361,"a":0.27},{"s":"DCM","w":364,"a":0.26},{"s":"DCM","w":366,"a":0.24},{"s":"DCM","w":368,"a":0.18},{"s":"DCM","w":370,"a":0.135},{"s":"DCM","w":372,"a":0.11},{"s":"DCM","w":375,"a":0.09},{"s":"DCM","w":380,"a":0.074},{"s":"DCM","w":386,"a":0.064},{"s":"DCM","w":392,"a":0.057},{"s":"DCM","w":400,"a":0.052},{"s":"DCM","w":415,"a":0.055},{"s":"DCM","w":430,"a":0.068},{"s":"DCM","w":445,"a":0.095},{"s":"DCM","w":460,"a":0.13},{"s":"DCM","w":475,"a":0.17},{"s":"DCM","w":490,"a":0.21},{"s":"DCM","w":500,"a":0.228},{"s":"DCM","w":510,"a":0.23},{"s":"DCM","w":520,"a":0.215},{"s":"DCM","w":530,"a":0.183},{"s":"DCM","w":540,"a":0.142},{"s":"DCM","w":550,"a":0.1},{"s":"DCM","w":560,"a":0.064},{"s":"DCM","w":575,"a":0.032},{"s":"DCM","w":590,"a":0.014},{"s":"DCM","w":605,"a":0.006},{"s":"DCM","w":620,"a":0.003},{"s":"DCM","w":650,"a":0.002},{"s":"DCM","w":680,"a":0.001},{"s":"DCM","w":700,"a":0.001},

{"s":"DMF","w":280,"a":0.89},{"s":"DMF","w":285,"a":0.91},{"s":"DMF","w":290,"a":0.93},{"s":"DMF","w":295,"a":0.955},{"s":"DMF","w":300,"a":0.98},{"s":"DMF","w":305,"a":0.995},{"s":"DMF","w":308,"a":1.0},{"s":"DMF","w":312,"a":0.985},{"s":"DMF","w":318,"a":0.93},{"s":"DMF","w":325,"a":0.82},{"s":"DMF","w":332,"a":0.7},{"s":"DMF","w":340,"a":0.55},{"s":"DMF","w":348,"a":0.4},{"s":"DMF","w":355,"a":0.29},{"s":"DMF","w":358,"a":0.265},{"s":"DMF","w":361,"a":0.26},{"s":"DMF","w":364,"a":0.25},{"s":"DMF","w":366,"a":0.23},{"s":"DMF","w":368,"a":0.17},{"s":"DMF","w":370,"a":0.128},{"s":"DMF","w":372,"a":0.102},{"s":"DMF","w":375,"a":0.083},{"s":"DMF","w":380,"a":0.066},{"s":"DMF","w":386,"a":0.055},{"s":"DMF","w":392,"a":0.048},{"s":"DMF","w":400,"a":0.043},{"s":"DMF","w":415,"a":0.045},{"s":"DMF","w":430,"a":0.058},{"s":"DMF","w":445,"a":0.085},{"s":"DMF","w":460,"a":0.12},{"s":"DMF","w":475,"a":0.163},{"s":"DMF","w":490,"a":0.205},{"s":"DMF","w":500,"a":0.226},{"s":"DMF","w":510,"a":0.232},{"s":"DMF","w":520,"a":0.225},{"s":"DMF","w":530,"a":0.2},{"s":"DMF","w":540,"a":0.165},{"s":"DMF","w":550,"a":0.125},{"s":"DMF","w":560,"a":0.086},{"s":"DMF","w":575,"a":0.046},{"s":"DMF","w":590,"a":0.024},{"s":"DMF","w":605,"a":0.013},{"s":"DMF","w":620,"a":0.007},{"s":"DMF","w":650,"a":0.004},{"s":"DMF","w":680,"a":0.003},{"s":"DMF","w":700,"a":0.003},

{"s":"Acetonitrile","w":280,"a":0.84},{"s":"Acetonitrile","w":285,"a":0.87},{"s":"Acetonitrile","w":290,"a":0.9},{"s":"Acetonitrile","w":295,"a":0.935},{"s":"Acetonitrile","w":300,"a":0.965},{"s":"Acetonitrile","w":305,"a":0.99},{"s":"Acetonitrile","w":308,"a":1.0},{"s":"Acetonitrile","w":312,"a":0.985},{"s":"Acetonitrile","w":318,"a":0.93},{"s":"Acetonitrile","w":325,"a":0.82},{"s":"Acetonitrile","w":332,"a":0.7},{"s":"Acetonitrile","w":340,"a":0.55},{"s":"Acetonitrile","w":348,"a":0.4},{"s":"Acetonitrile","w":355,"a":0.285},{"s":"Acetonitrile","w":358,"a":0.255},{"s":"Acetonitrile","w":361,"a":0.25},{"s":"Acetonitrile","w":364,"a":0.245},{"s":"Acetonitrile","w":366,"a":0.225},{"s":"Acetonitrile","w":368,"a":0.165},{"s":"Acetonitrile","w":370,"a":0.12},{"s":"Acetonitrile","w":372,"a":0.095},{"s":"Acetonitrile","w":375,"a":0.077},{"s":"Acetonitrile","w":380,"a":0.06},{"s":"Acetonitrile","w":386,"a":0.05},{"s":"Acetonitrile","w":392,"a":0.043},{"s":"Acetonitrile","w":400,"a":0.04},{"s":"Acetonitrile","w":415,"a":0.05},{"s":"Acetonitrile","w":430,"a":0.07},{"s":"Acetonitrile","w":445,"a":0.1},{"s":"Acetonitrile","w":460,"a":0.135},{"s":"Acetonitrile","w":475,"a":0.175},{"s":"Acetonitrile","w":490,"a":0.21},{"s":"Acetonitrile","w":500,"a":0.225},{"s":"Acetonitrile","w":510,"a":0.227},{"s":"Acetonitrile","w":520,"a":0.212},{"s":"Acetonitrile","w":530,"a":0.18},{"s":"Acetonitrile","w":540,"a":0.14},{"s":"Acetonitrile","w":550,"a":0.098},{"s":"Acetonitrile","w":560,"a":0.062},{"s":"Acetonitrile","w":575,"a":0.03},{"s":"Acetonitrile","w":590,"a":0.013},{"s":"Acetonitrile","w":605,"a":0.006},{"s":"Acetonitrile","w":620,"a":0.003},{"s":"Acetonitrile","w":650,"a":0.002},{"s":"Acetonitrile","w":680,"a":0.001},{"s":"Acetonitrile","w":700,"a":0.001}
]
},
"hconcat": [
{
 "width": 400, "height": 400,
 "resolve": {"axis": {"x": "independent", "y": "independent"}},
 "layer": [
  {"data": {"name": "A"},
   "mark": {"type": "line", "strokeWidth": 2.5, "interpolate": "monotone", "clip": true},
   "encoding": {
    "x": {"field": "w", "type": "quantitative", "scale": {"domain": [290, 700], "nice": false, "zero": false},
          "axis": {"orient": "bottom", "values": [300, 400, 500, 600, 700], "tickSize": 8, "labelPadding": 4, "title": "Wavelength (nm)", "titleFontSize": 18.5, "titlePadding": 10, "titleX": 192}},
    "y": {"field": "a", "type": "quantitative", "scale": {"domain": [0, 1.2], "nice": false},
          "axis": {"orient": "left", "values": [0, 0.2, 0.4, 0.6, 0.8, 1.0, 1.2], "format": ".1f", "tickSize": 7, "labelPadding": 4, "title": "Normalized Absorptivity (au)", "titleFontSize": 20, "titlePadding": 16}},
    "color": {"field": "s", "type": "nominal",
      "scale": {"domain": ["Hexane", "Triethylamine", "Butyl ether", "Isopropyl ether", "Ethyl ether", "Ethyl acetate", "THF", "DCM", "DMF", "Acetonitrile"],
                "range": ["#000000", "#ee1111", "#33dd33", "#1111ee", "#33e6f0", "#ff33ee", "#ffff22", "#808000", "#000080", "#800000"]},
      "legend": {"legendX": 229.5, "legendY": 22, "symbolType": "M-3,0H3", "labelOffset": 13.5}}
   }},
  {"data": {"values": [{}]},
   "mark": {"type": "point", "opacity": 0},
   "encoding": {
    "x": {"datum": 400, "type": "quantitative", "axis": {"orient": "bottom", "values": [300,320,340,360,380,400,420,440,460,480,500,520,540,560,580,600,620,640,660,680,700], "labels": false, "tickSize": 4, "title": null}},
    "y": {"datum": 0.5, "type": "quantitative", "axis": {"orient": "left", "values": [0,0.04,0.08,0.12,0.16,0.2,0.24,0.28,0.32,0.36,0.4,0.44,0.48,0.52,0.56,0.6,0.64,0.68,0.72,0.76,0.8,0.84,0.88,0.92,0.96,1,1.04,1.08,1.12,1.16,1.2], "labels": false, "tickSize": 4, "title": null}}
   }},
  {"data": {"values": [{}]},
   "mark": {"type": "rect", "fill": "#000"},
   "encoding": {"x": {"datum": 346.4, "type": "quantitative", "axis": null}, "x2": {"datum": 379.5}, "y": {"datum": 1.132, "type": "quantitative", "axis": null}, "y2": {"datum": 1.040}}},
  {"data": {"values": [{}]},
   "mark": {"type": "rect", "fill": "#fff", "stroke": "#aaa", "strokeWidth": 1},
   "encoding": {"x": {"datum": 341.3, "type": "quantitative", "axis": null}, "x2": {"datum": 374.1}, "y": {"datum": 1.152, "type": "quantitative", "axis": null}, "y2": {"datum": 1.056}}},
  {"data": {"values": [{}]},
   "mark": {"type": "text", "text": "A", "fontSize": 19, "fontWeight": "bold", "font": "Liberation Sans", "color": "#000", "baseline": "middle", "align": "center"},
   "encoding": {"x": {"datum": 357.7, "type": "quantitative", "axis": null}, "y": {"datum": 1.104, "type": "quantitative", "axis": null}}}
 ]
},
{
 "width": 400, "height": 400,
 "resolve": {"axis": {"x": "independent", "y": "independent"}},
 "layer": [
  {"data": {"name": "B"},
   "mark": {"type": "line", "strokeWidth": 2.5, "interpolate": "monotone", "clip": true},
   "encoding": {
    "x": {"field": "w", "type": "quantitative", "scale": {"domain": [280, 700], "nice": false, "zero": false},
          "axis": {"orient": "bottom", "values": [300, 400, 500, 600, 700], "tickSize": 8, "labelPadding": 4, "title": "Wavelength (nm)", "titleFontSize": 18.5, "titlePadding": 10}},
    "y": {"field": "a", "type": "quantitative", "scale": {"domain": [0, 1.2], "nice": false},
          "axis": {"orient": "left", "values": [0, 0.2, 0.4, 0.6, 0.8, 1.0, 1.2], "format": ".1f", "tickSize": 7, "labelPadding": 4, "title": "Normalized Absorptivity (au)", "titleFontSize": 20, "titlePadding": 16}},
    "color": {"field": "s", "type": "nominal",
      "scale": {"domain": ["Hexane", "Triethylamine", "n-butyl ether", "Isopropyl ether", "Diethyl ether", "Ethyl acetate", "THF", "DCM", "DMF", "Acetonitrile"],
                "range": ["#000000", "#ee1111", "#33dd33", "#1111ee", "#33e6f0", "#ff33ee", "#ffff22", "#808000", "#000080", "#800080"]},
      "legend": {"legendX": 232, "legendY": 11, "symbolType": "M-2.6,0H2.6", "labelOffset": 11}}
   }},
  {"data": {"values": [{}]},
   "mark": {"type": "point", "opacity": 0},
   "encoding": {
    "x": {"datum": 400, "type": "quantitative", "axis": {"orient": "bottom", "values": [280,300,320,340,360,380,400,420,440,460,480,500,520,540,560,580,600,620,640,660,680,700], "labels": false, "tickSize": 4, "title": null}},
    "y": {"datum": 0.5, "type": "quantitative", "axis": {"orient": "left", "values": [0,0.04,0.08,0.12,0.16,0.2,0.24,0.28,0.32,0.36,0.4,0.44,0.48,0.52,0.56,0.6,0.64,0.68,0.72,0.76,0.8,0.84,0.88,0.92,0.96,1,1.04,1.08,1.12,1.16,1.2], "labels": false, "tickSize": 4, "title": null}}
   }},
  {"data": {"values": [{}]},
   "mark": {"type": "rect", "fill": "#000"},
   "encoding": {"x": {"datum": 300.3, "type": "quantitative", "axis": null}, "x2": {"datum": 330.2}, "y": {"datum": 1.132, "type": "quantitative", "axis": null}, "y2": {"datum": 1.047}}},
  {"data": {"values": [{}]},
   "mark": {"type": "rect", "fill": "#fff", "stroke": "#aaa", "strokeWidth": 1},
   "encoding": {"x": {"datum": 295.1, "type": "quantitative", "axis": null}, "x2": {"datum": 325.6}, "y": {"datum": 1.147, "type": "quantitative", "axis": null}, "y2": {"datum": 1.062}}},
  {"data": {"values": [{}]},
   "mark": {"type": "text", "text": "B", "fontSize": 19, "fontWeight": "bold", "font": "Liberation Sans", "color": "#000", "baseline": "middle", "align": "center"},
   "encoding": {"x": {"datum": 310.5, "type": "quantitative", "axis": null}, "y": {"datum": 1.104, "type": "quantitative", "axis": null}}}
 ]
}
]
}
